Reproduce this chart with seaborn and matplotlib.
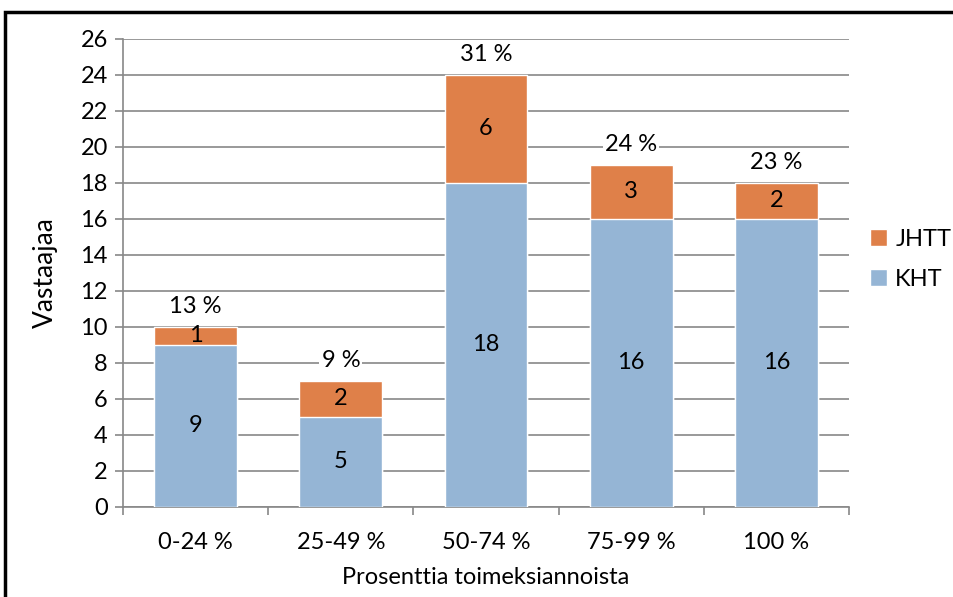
import matplotlib
matplotlib.use('Agg')
import matplotlib.pyplot as plt
import seaborn as sns
import numpy as np
from matplotlib.patches import Rectangle, Patch

categories = ['0-24 %', '25-49 %', '50-74 %', '75-99 %', '100 %']
kht = [9, 5, 18, 16, 16]
jhtt = [1, 2, 6, 3, 2]
percent = ['13 %', '9 %', '31 %', '24 %', '23 %']

blue = '#95B5D5'
orange = '#DF8049'
grid_gray = '#888888'

sns.set_style('white')
plt.rcParams['font.family'] = ['Lato', 'DejaVu Sans']
plt.rcParams['text.color'] = 'black'
plt.rcParams['axes.labelcolor'] = 'black'

fig = plt.figure(figsize=(9.54, 5.97), dpi=100)
ax = fig.add_axes([0.129, 0.151, 0.761, 0.784])

totals = [k + j for k, j in zip(kht, jhtt)]
sns.barplot(x=categories, y=totals, color=orange, width=0.57,
            saturation=1, ax=ax, zorder=2)
sns.barplot(x=categories, y=kht, color=blue, width=0.57,
            saturation=1, ax=ax, zorder=3)

# segment labels
for i in range(len(categories)):
    ax.text(i, kht[i] / 2, str(kht[i]), ha='center', va='center',
            fontsize=17, zorder=5)
    ax.text(i, kht[i] + jhtt[i] / 2, str(jhtt[i]), ha='center', va='center',
            fontsize=17, zorder=5)
    ax.text(i, totals[i] + 1.15, percent[i], ha='center', va='center',
            fontsize=17, zorder=5,
            bbox=dict(facecolor='white', edgecolor='none', pad=1.5))

ax.set_ylim(0, 26)
ax.set_xlim(-0.5, 4.5)
ax.set_yticks(np.arange(0, 27, 2))
ax.yaxis.grid(True, color=grid_gray, linewidth=1.2)
ax.set_axisbelow(True)

for s in ['top', 'right']:
    ax.spines[s].set_visible(False)
for s in ['left', 'bottom']:
    ax.spines[s].set_color(grid_gray)
    ax.spines[s].set_linewidth(1.2)

ax.set_xticks(np.arange(-0.5, 5, 1), minor=True)
ax.tick_params(axis='x', which='major', length=0, labelsize=17, pad=18,
               labelcolor='black')
ax.tick_params(axis='x', which='minor', length=6, color=grid_gray, width=1.2,
               direction='out', bottom=True)
ax.tick_params(axis='y', length=6, color=grid_gray, width=1.2,
               direction='out', left=True, labelsize=17, pad=5,
               labelcolor='black')

ax.set_xlabel('Prosenttia toimeksiannoista', fontsize=17, labelpad=10)
ax.set_ylabel('Vastaajaa', fontsize=19, labelpad=16)

handles = [Patch(facecolor=orange, label='JHTT'),
           Patch(facecolor=blue, label='KHT')]
fig.legend(handles=handles, loc='center left', bbox_to_anchor=(0.9, 0.566),
           frameon=False, fontsize=17, handlelength=0.7, handleheight=0.7,
           handletextpad=0.35, labelspacing=0.8, borderpad=0)

# outer frame, cut off at right and bottom
top = 1 - 12 / 597
fig.patches.append(Rectangle((5 / 954, -0.1), 1.2, top + 0.1,
                             transform=fig.transFigure, fill=False,
                             edgecolor='black', linewidth=2.5))

fig.savefig('out.png', dpi=100)
